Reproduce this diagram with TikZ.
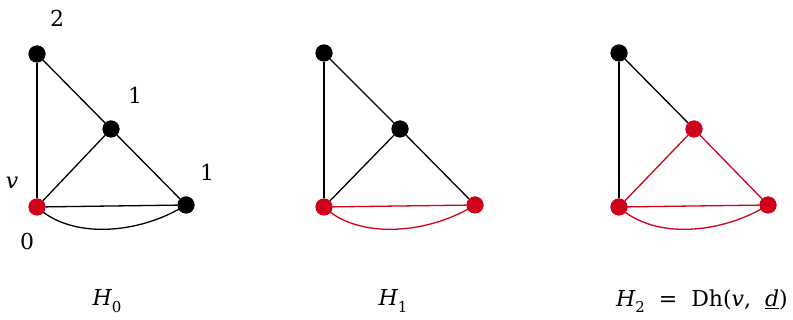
\documentclass[tikz,border=0pt]{standalone}
\usepackage{fontspec}
\setmainfont{DejaVu Serif}
\definecolor{myred}{RGB}{208,2,27}
\newcommand{\sub}[1]{\raisebox{-0.3em}{\upshape\fontsize{15}{15}\selectfont #1}}
\begin{document}
\begin{tikzpicture}[x=1pt,y=-1pt,
  vtx/.style={circle,fill=black,inner sep=0pt,minimum size=17pt},
  rvtx/.style={vtx,fill=myred},
  edge/.style={line width=1.3pt,black},
  redge/.style={edge,myred},
  lab/.style={font=\fontsize{22}{22}\selectfont,inner sep=0pt}]
\useasboundingbox (0,0) rectangle (793,320);
% H0
\node[vtx] (a0) at (37,54) {};
\node[vtx] (b0) at (111,129) {};
\node[vtx] (c0) at (186,205) {};
\node[rvtx] (v0) at (37,207) {};
\draw[edge] (a0) -- (v0);
\draw[edge] (a0) -- (b0);
\draw[edge] (b0) -- (v0);
\draw[edge] (b0) -- (c0);
\draw[edge] (v0) -- (c0);
\draw[edge] (v0.center) .. controls (72,240) and (140,234) .. (c0.center);
\node[vtx] at (a0) {};\node[vtx] at (b0) {};\node[vtx] at (c0) {};\node[rvtx] at (v0) {};
\node[lab] (l2) at (57,18) {2};
\node[lab] (l1a) at (135,95) {1};
\node[lab] (l1b) at (207,172) {1};
\node[lab] (lv) at (12,183) {\itshape v};
\node[lab] (l0) at (27,241) {0};
\node[lab] (t0) at (107,301) {\itshape H\sub{0}};
% H1
\node[vtx] (a1) at (324,53) {};
\node[vtx] (b1) at (400,129) {};
\node[rvtx] (c1) at (475,205) {};
\node[rvtx] (v1) at (324,207) {};
\draw[edge] (a1) -- (v1);
\draw[edge] (a1) -- (b1);
\draw[edge] (b1) -- (v1);
\draw[edge] (b1) -- (c1);
\draw[redge] (v1) -- (c1);
\draw[redge] (v1.center) .. controls (359,240) and (429,234) .. (c1.center);
\node[vtx] at (a1) {};\node[vtx] at (b1) {};\node[rvtx] at (c1) {};\node[rvtx] at (v1) {};
\node[lab] (t1) at (393,301) {\itshape H\sub{1}};
% H2
\node[vtx] (a2) at (619,53) {};
\node[rvtx] (b2) at (694,129) {};
\node[rvtx] (c2) at (768,205) {};
\node[rvtx] (v2) at (619,207) {};
\draw[edge] (a2) -- (v2);
\draw[edge] (a2) -- (b2);
\draw[redge] (b2) -- (v2);
\draw[redge] (b2) -- (c2);
\draw[redge] (v2) -- (c2);
\draw[redge] (v2.center) .. controls (654,240) and (722,234) .. (c2.center);
\node[vtx] at (a2) {};\node[rvtx] at (b2) {};\node[rvtx] at (c2) {};\node[rvtx] at (v2) {};
\node[lab] (t2) at (702,301) {\itshape H\sub{2}\upshape\ \ =\ \ Dh(\itshape v\upshape, \ \underline{\itshape d})};
\end{tikzpicture}
\end{document}
